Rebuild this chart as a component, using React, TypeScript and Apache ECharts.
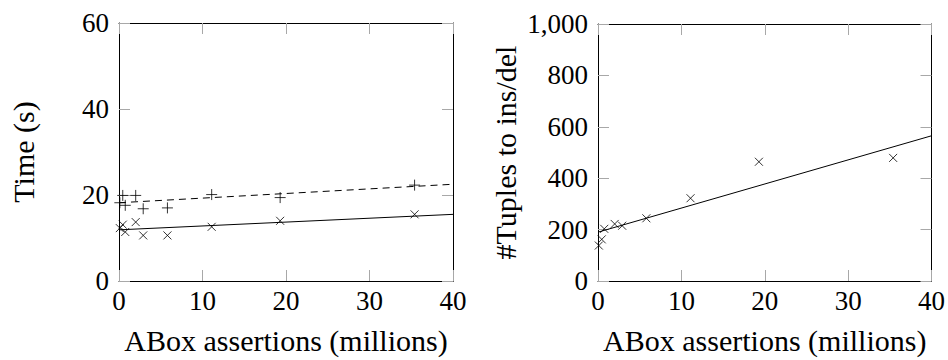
import React, { useEffect, useRef } from 'react';
import * as echarts from 'echarts';

// ABox assertions (millions)
const assertions = [0.1, 0.45, 0.75, 2.0, 2.9, 5.8, 11.1, 19.3, 35.4];
// Time (s) – cross markers
const timeCross = [12.3, 13.1, 11.4, 13.7, 10.6, 10.6, 12.6, 14.0, 15.5];
// Time (s) – plus markers
const timePlus = [18.2, 19.9, 17.6, 19.9, 16.8, 17.0, 20.1, 19.4, 22.3];
// #Tuples to ins/del – cross markers
const tuples = [138, 162, 203, 222, 215, 244, 322, 464, 479];

// Fitted trend lines (x endpoints, y endpoints)
const fitX = [0, 40];
const fitTimeCross = [11.9, 15.5];
const fitTimePlus = [18.2, 22.5];
const fitTuples = [190, 565];

const FONT = 'Liberation Serif';
const CROSS = 'path://M0,0L10,10M10,0L0,10';
const PLUS = 'path://M5,0L5,10M0,5L10,5';

const zip = (xs: number[], ys: number[]) => xs.map((x, i) => [x, ys[i]]);

const tickStyle = { show: true, inside: true, length: 11, lineStyle: { color: '#a8a8a8', width: 1 } };
const lineStyle = { show: true, onZero: false, lineStyle: { color: '#000', width: 1 } };

function xAxes(gridIndex: number) {
  const base = { type: 'value', gridIndex, min: 0, max: 40, interval: 10, splitLine: { show: false }, axisLine: lineStyle, axisTick: tickStyle };
  return [
    {
      ...base,
      position: 'bottom',
      name: 'ABox assertions (millions)',
      nameLocation: 'middle',
      nameGap: 44,
      nameTextStyle: { fontFamily: FONT, fontSize: 30, color: '#000' },
      axisLabel: { fontFamily: FONT, fontSize: 27, color: '#000', margin: 6 },
    },
    { ...base, position: 'top', axisLabel: { show: false } },
  ];
}

function yAxes(gridIndex: number, max: number, interval: number, name: string, nameGap: number, fmt?: (v: number) => string) {
  const base = { type: 'value', gridIndex, min: 0, max, interval, splitLine: { show: false }, axisLine: lineStyle, axisTick: tickStyle };
  return [
    {
      ...base,
      position: 'left',
      name,
      nameLocation: 'middle',
      nameGap,
      nameTextStyle: { fontFamily: FONT, fontSize: 30, color: '#000' },
      axisLabel: { fontFamily: FONT, fontSize: 27, color: '#000', margin: 10, formatter: fmt },
    },
    { ...base, position: 'right', axisLabel: { show: false } },
  ];
}

const markerStyle = { color: 'rgba(0,0,0,0)', borderColor: '#000', borderWidth: 1 };

export default function App() {
  const ref = useRef<HTMLDivElement>(null);
  useEffect(() => {
    const chart = echarts.init(ref.current!, null, { renderer: 'svg' });
    const option: any = {
      animation: false,
      backgroundColor: '#fff',
      grid: [
        { left: 119, top: 23, width: 334, height: 258 },
        { left: 598, top: 24, width: 334, height: 258 },
      ],
      xAxis: [...xAxes(0), ...xAxes(1)],
      yAxis: [
        ...yAxes(0, 60, 20, 'Time (s)', 81),
        ...yAxes(1, 1000, 200, '#Tuples to ins/del', 78, (v: number) => v.toLocaleString('en-US')),
      ],
      series: [
        {
          type: 'line', xAxisIndex: 0, yAxisIndex: 0, data: zip(fitX, fitTimeCross), showSymbol: false,
          lineStyle: { color: '#000', width: 1 }, z: 2,
        },
        {
          type: 'line', xAxisIndex: 0, yAxisIndex: 0, data: zip(fitX, fitTimePlus), showSymbol: false,
          lineStyle: { color: '#000', width: 1, type: [7, 5] }, z: 2,
        },
        {
          type: 'scatter', xAxisIndex: 0, yAxisIndex: 0, data: zip(assertions, timeCross),
          symbol: CROSS, symbolSize: 8, itemStyle: markerStyle, z: 3,
        },
        {
          type: 'scatter', xAxisIndex: 0, yAxisIndex: 0, data: zip(assertions, timePlus),
          symbol: PLUS, symbolSize: 11, itemStyle: markerStyle, z: 3,
        },
        {
          type: 'line', xAxisIndex: 2, yAxisIndex: 2, data: zip(fitX, fitTuples), showSymbol: false,
          lineStyle: { color: '#000', width: 1 }, z: 2,
        },
        {
          type: 'scatter', xAxisIndex: 2, yAxisIndex: 2, data: zip(assertions, tuples),
          symbol: CROSS, symbolSize: 8, itemStyle: markerStyle, z: 3,
        },
      ],
    };
    chart.setOption(option);
    return () => chart.dispose();
  }, []);
  return <div ref={ref} style={{ position: 'fixed', left: 0, top: 0, width: 948, height: 360 }} />;
}
